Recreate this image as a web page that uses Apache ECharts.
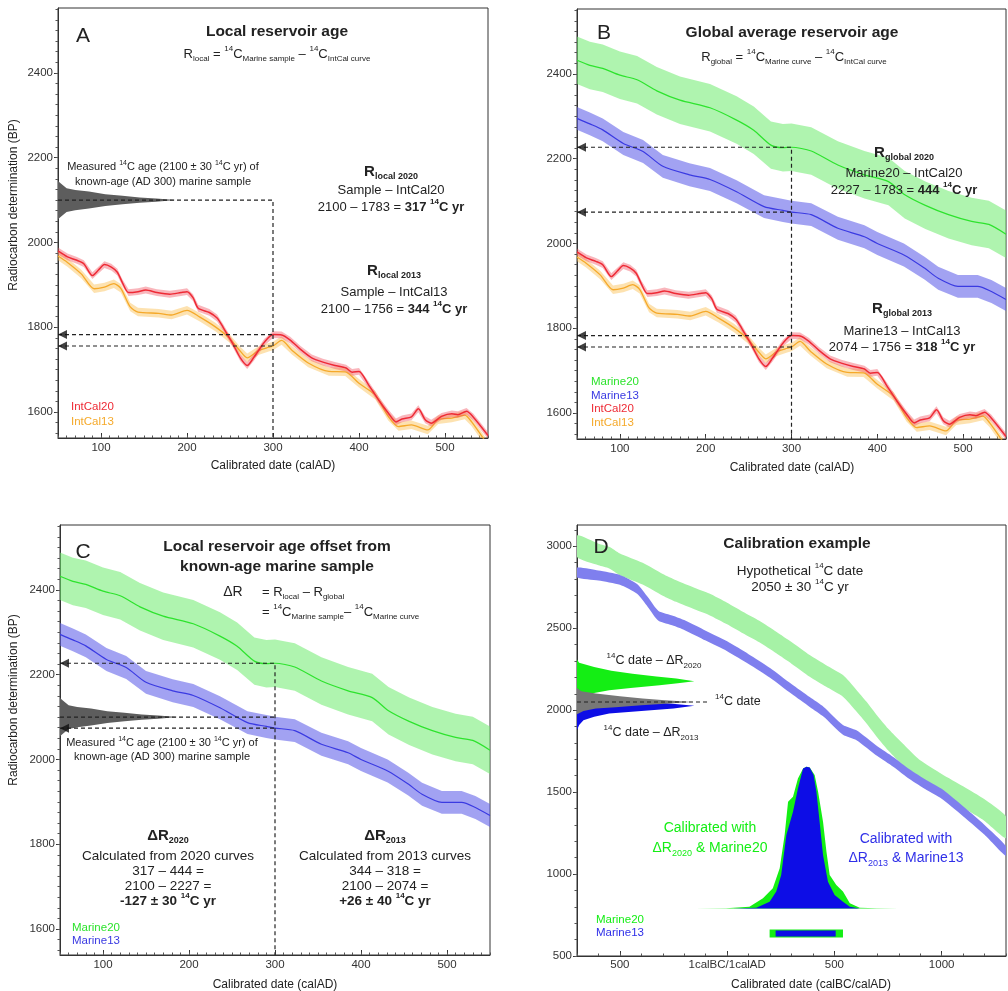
<!DOCTYPE html>
<html>
<head>
<meta charset="utf-8">
<script src="https://cdn.jsdelivr.net/npm/echarts@6/dist/echarts.min.js"></script>
<style>
html, body { margin: 0; padding: 0; background: #fff; }
#chart-panel { width: 1008px; height: 991px; }
</style>
</head>
<body>
<div id="chart-panel"></div>
<script>
// ---- curves: [calendar year, 14C age BP] ----
var intcal20 = [[50,1980],[61,1966],[72,1958],[80,1950],[90,1922],[97,1935],[104,1948],[112,1942],[119,1930],[125,1905],[132,1882],[143,1884],[152,1888],[165,1882],[180,1878],[193,1882],[200,1884],[207,1870],[213,1845],[226,1835],[235,1822],[242,1800],[253,1762],[262,1728],[270,1710],[278,1730],[290,1765],[300,1783],[310,1782],[320,1770],[332,1748],[345,1728],[358,1718],[372,1710],[385,1704],[392,1694],[400,1696],[411,1665],[423,1628],[434,1598],[443,1577],[450,1584],[461,1589],[469,1608],[477,1582],[484,1574],[496,1590],[508,1596],[515,1594],[525,1602],[533,1588],[550,1545]];
var intcal13 = [[50,1968],[61,1953],[77,1926],[92,1891],[104,1895],[115,1903],[123,1892],[134,1848],[143,1836],[167,1833],[182,1829],[200,1840],[215,1824],[233,1801],[249,1775],[261,1746],[270,1728],[283,1745],[295,1753],[300,1756],[310,1769],[322,1746],[341,1716],[365,1696],[384,1695],[400,1668],[419,1640],[434,1590],[446,1566],[461,1570],[480,1558],[492,1582],[508,1586],[523,1593],[531,1577],[550,1522]];
var marine20 = [[50,2432],[65,2420],[80,2413],[100,2397],[120,2386],[143,2360],[170,2338],[205,2320],[236,2291],[256,2267],[276,2232],[290,2226],[300,2227],[323,2218],[354,2185],[385,2162],[413,2146],[432,2115],[456,2090],[483,2068],[510,2052],[530,2045],[550,2022]];
var marine13 = [[50,2295],[65,2282],[80,2268],[104,2236],[127,2217],[150,2182],[181,2162],[205,2151],[236,2122],[268,2087],[290,2078],[300,2074],[323,2068],[354,2036],[385,2016],[400,2000],[431,1973],[455,1942],[471,1918],[494,1899],[517,1899],[533,1887],[550,1868]];
var ic20Err = 8, ic13Err = 10, m20Err = 56, m13Err = 27;

// panel D curves (calBC negative)
var marine20D = [[-700,3000],[-600,2950],[-550,2931],[-500,2890],[-394,2833],[-300,2765],[-238,2727],[-150,2680],[-83,2646],[0,2590],[73,2535],[150,2480],[229,2413],[300,2350],[385,2270],[460,2210],[540,2148],[600,2062],[650,1985],[700,1900],[750,1822],[800,1755],[850,1690],[900,1628],[1000,1545],[1100,1470],[1200,1390],[1300,1285]];
var marine13D = [[-700,2840],[-600,2822],[-500,2795],[-420,2740],[-370,2660],[-320,2575],[-250,2545],[-200,2520],[-100,2455],[0,2390],[100,2312],[200,2228],[300,2130],[385,2050],[450,1990],[540,1880],[603,1847],[700,1750],[774,1685],[850,1610],[930,1543],[1000,1490],[1085,1400],[1200,1270],[1300,1140]];
var m20DErr = 66, m13DErr = 30;

// measured / hypothetical 14C age distributions: [extent, 14C age]
var sampleDist = [[50,2145],[53,2140],[60,2128],[70,2124],[86,2120],[105,2114],[125,2110],[145,2106],[164,2104],[187,2100],[164,2096],[145,2094],[125,2090],[105,2086],[86,2080],[70,2076],[60,2072],[53,2060],[50,2055]];
var datedGray = [[-700,2135],[-680,2115],[-612,2102],[-500,2085],[-394,2071],[-290,2060],[-160,2050],[-290,2040],[-400,2030],[-520,2018],[-612,2010],[-670,1995],[-700,1975]];
var datedGreen = [[-700,2310],[-690,2290],[-620,2264],[-540,2240],[-441,2223],[-330,2205],[-237,2193],[-153,2177],[-230,2165],[-315,2152],[-450,2135],[-550,2122],[-620,2105],[-660,2091],[-690,2070],[-700,2050]];
var datedBlue = [[-700,2110],[-680,2102],[-580,2080],[-467,2061],[-268,2041],[-153,2027],[-250,2010],[-400,1995],[-550,1980],[-620,1960],[-670,1939],[-690,1910],[-700,1878]];

// calibrated distributions (drawn on the 14C axis from a baseline)
var calGreen = [[-150,790],[-5,791],[104,801],[167,852],[213,913],[245,1035],[268,1238],[284,1441],[307,1471],[330,1583],[354,1644],[370,1655],[385,1650],[408,1604],[424,1502],[447,1319],[463,1136],[478,994],[509,933],[540,893],[572,822],[618,795],[696,791],[800,790]];
var calBlue = [[26,790],[136,795],[198,831],[229,893],[252,994],[276,1238],[307,1380],[330,1522],[354,1644],[370,1655],[385,1650],[403,1604],[416,1502],[431,1319],[447,1116],[470,953],[501,872],[540,831],[572,801],[618,790]];
var rangeGreen = [198, 540], rangeBlue = [226, 506], rangeLevel = 638;

// key values
var sampleAge = 2100, sampleYear = 300, hypoAge = 2050;
var ic20At300 = 1783, ic13At300 = 1756, m20At300 = 2227, m13At300 = 2074;

// axis ticks
var adTicks = [100, 200, 300, 400, 500];
var bpTicks = [1600, 1800, 2000, 2200, 2400];
var dXTicks = [-500, 0, 500, 1000];
var dYTicks = [500, 1000, 1500, 2000, 2500, 3000];
var AD_MIN = 50, AD_MAX = 550, BP_MIN = 1539, BP_MAX = 2553;
var D_XMIN = -700, D_XMAX = 1300, D_YMIN = 500, D_YMAX = 3130;

function steps(a, b, s) { var r = []; for (var v = a; v <= b; v += s) r.push(v); return r; }

var FONT = "'Liberation Sans', Arial, sans-serif";
var COL = {
    red: '#ee2a35', redBand: 'rgba(240,80,95,0.42)',
    orange: '#f5a92a', orangeBand: 'rgba(250,190,80,0.45)',
    green: '#2de32d', greenBand: 'rgba(110,235,110,0.55)',
    blue: '#3a3ae2', blueBand: 'rgba(95,95,232,0.58)',
    dGreenBand: '#a6f2a6', dBlueBand: '#7f7fee',
    gray: '#5d5d5d', solidGreen: '#14ee14', solidBlue: '#0d0de6', ink: '#222'
};

var myChart = echarts.init(document.getElementById('chart-panel'));

function bandPoints(curve, err) {
    var up = curve.map(function (p) { return [p[0], p[1] + err]; });
    var lo = curve.map(function (p) { return [p[0], p[1] - err]; }).reverse();
    return up.concat(lo);
}

function polySeries(points, color, g, z, smooth) {
    return {
        type: 'custom', xAxisIndex: 2 * g, yAxisIndex: 2 * g, z: z, silent: true,
        data: [points[0]],
        renderItem: function (params, api) {
            var cs = params.coordSys;
            return {
                type: 'polygon',
                shape: { points: points.map(function (p) { return api.coord(p); }), smooth: smooth || 0 },
                style: { fill: color },
                clipPath: { type: 'rect', shape: { x: cs.x, y: cs.y, width: cs.width, height: cs.height } }
            };
        }
    };
}

function lineSeries(data, color, width, g, z, dashed) {
    return {
        type: 'line', data: data, xAxisIndex: 2 * g, yAxisIndex: 2 * g, z: z,
        symbol: 'none', silent: true, smooth: dashed ? false : 0.25,
        lineStyle: { color: color, width: width, type: dashed ? [4, 3] : 'solid' }
    };
}

function arrows(data, g) {
    return {
        type: 'scatter', data: data, xAxisIndex: 2 * g, yAxisIndex: 2 * g, z: 20, clip: false,
        symbol: 'triangle', symbolRotate: 90, symbolSize: [9, 9], symbolOffset: [4.5, 0],
        itemStyle: { color: '#111' }, silent: true
    };
}

var plain = function (v) { return String(v); };

function xAxes(g, min, max, major, minor, fmt, margin) {
    return [{
        gridIndex: g, type: 'value', min: min, max: max, position: 'bottom',
        axisLine: { show: true, onZero: false, lineStyle: { color: '#333' } },
        axisTick: { show: true, inside: true, length: 5, customValues: major, lineStyle: { color: '#333' } },
        axisLabel: { customValues: major, formatter: fmt || plain, color: '#333', fontSize: 11.5, fontFamily: FONT, margin: margin },
        splitLine: { show: false }
    }, {
        gridIndex: g, type: 'value', min: min, max: max, position: 'bottom',
        axisLine: { show: false, onZero: false },
        axisTick: { show: true, inside: true, length: 2.5, customValues: minor, lineStyle: { color: '#555' } },
        axisLabel: { show: false }, splitLine: { show: false }
    }];
}

function yAxes(g, min, max, major, minor) {
    return [{
        gridIndex: g, type: 'value', min: min, max: max, position: 'left',
        axisLine: { show: true, onZero: false, lineStyle: { color: '#333' } },
        axisTick: { show: true, inside: false, length: 4, customValues: major, lineStyle: { color: '#333' } },
        axisLabel: { customValues: major, formatter: plain, color: '#333', fontSize: 11.5, fontFamily: FONT, margin: 5 },
        splitLine: { show: false }
    }, {
        gridIndex: g, type: 'value', min: min, max: max, position: 'left',
        axisLine: { show: false, onZero: false },
        axisTick: { show: true, inside: false, length: 2.5, customValues: minor, lineStyle: { color: '#555' } },
        axisLabel: { show: false }, splitLine: { show: false }
    }];
}

function makeRich(size, color, bold) {
    var ss = Math.round(size * 0.62), w = bold ? 'bold' : 'normal';
    return {
        b: { fontFamily: FONT, fontSize: size, fontWeight: 'bold', fill: color },
        sup: { fontFamily: FONT, fontSize: ss, fontWeight: w, fill: color, lineHeight: ss + 1, verticalAlign: 'top' },
        sub: { fontFamily: FONT, fontSize: ss, fontWeight: w, fill: color, lineHeight: ss + 1, verticalAlign: 'bottom' },
        bsup: { fontFamily: FONT, fontSize: ss, fontWeight: 'bold', fill: color, lineHeight: ss + 1, verticalAlign: 'top' },
        bsub: { fontFamily: FONT, fontSize: ss + 1, fontWeight: 'bold', fill: color, lineHeight: ss + 1, verticalAlign: 'bottom' },
        R: { fontFamily: FONT, fontSize: size + 2, fontWeight: 'bold', fill: color }
    };
}

function txt(x, y, text, o) {
    o = o || {};
    var size = o.size || 13, color = o.color || COL.ink;
    return {
        type: 'text', x: x, y: y, rotation: o.rot || 0, silent: true, z: 100,
        style: {
            text: text, fontFamily: FONT, fontSize: size, fontWeight: o.bold ? 'bold' : 'normal', fill: color,
            align: o.align || 'center', verticalAlign: 'middle', lineHeight: Math.round(size * 1.4),
            rich: makeRich(size, color, o.bold)
        }
    };
}

var adMinor = steps(AD_MIN, AD_MAX, 10);
var bpMinor = steps(1550, 2550, 25);
var dxMinor = steps(D_XMIN, D_XMAX, 100);
var dyMinor = steps(D_YMIN, 3100, 100);
var dFmt = function (v) { return v === 0 ? '1calBC/1calAD' : String(Math.abs(v)); };

var xAxis = [].concat(
    xAxes(0, AD_MIN, AD_MAX, adTicks, adMinor, null, 4),
    xAxes(1, AD_MIN, AD_MAX, adTicks, adMinor, null, 4),
    xAxes(2, AD_MIN, AD_MAX, adTicks, adMinor, null, 4),
    xAxes(3, D_XMIN, D_XMAX, dXTicks, dxMinor, dFmt, 3)
);
var yAxis = [].concat(
    yAxes(0, BP_MIN, BP_MAX, bpTicks, bpMinor),
    yAxes(1, BP_MIN, BP_MAX, bpTicks, bpMinor),
    yAxes(2, BP_MIN, BP_MAX, bpTicks, bpMinor),
    yAxes(3, D_YMIN, D_YMAX, dYTicks, dyMinor)
);

var series = [];
// ---- A: local reservoir age ----
series.push(polySeries(bandPoints(intcal13, ic13Err), COL.orangeBand, 0, 1));
series.push(lineSeries(intcal13, COL.orange, 1.3, 0, 2));
series.push(polySeries(bandPoints(intcal20, ic20Err), COL.redBand, 0, 3));
series.push(lineSeries(intcal20, COL.red, 1.5, 0, 4));
series.push(polySeries(sampleDist, COL.gray, 0, 5));
series.push(lineSeries([[AD_MIN, sampleAge], [sampleYear, sampleAge], [sampleYear, BP_MIN]], '#222', 1.2, 0, 10, true));
series.push(lineSeries([[AD_MIN, ic20At300], [sampleYear, ic20At300]], '#222', 1.2, 0, 10, true));
series.push(lineSeries([[AD_MIN, ic13At300], [sampleYear, ic13At300]], '#222', 1.2, 0, 10, true));
series.push(arrows([[AD_MIN, ic20At300], [AD_MIN, ic13At300]], 0));

// ---- B: global average reservoir age ----
series.push(polySeries(bandPoints(marine20, m20Err), COL.greenBand, 1, 1));
series.push(lineSeries(marine20, COL.green, 1.2, 1, 2));
series.push(polySeries(bandPoints(marine13, m13Err), COL.blueBand, 1, 1));
series.push(lineSeries(marine13, COL.blue, 1.2, 1, 2));
series.push(polySeries(bandPoints(intcal13, ic13Err), COL.orangeBand, 1, 3));
series.push(lineSeries(intcal13, COL.orange, 1.3, 1, 4));
series.push(polySeries(bandPoints(intcal20, ic20Err), COL.redBand, 1, 5));
series.push(lineSeries(intcal20, COL.red, 1.5, 1, 6));
series.push(lineSeries([[AD_MIN, m20At300], [sampleYear, m20At300], [sampleYear, BP_MIN]], '#222', 1.2, 1, 10, true));
series.push(lineSeries([[AD_MIN, m13At300], [sampleYear, m13At300]], '#222', 1.2, 1, 10, true));
series.push(lineSeries([[AD_MIN, ic20At300], [sampleYear, ic20At300]], '#222', 1.2, 1, 10, true));
series.push(lineSeries([[AD_MIN, ic13At300], [sampleYear, ic13At300]], '#222', 1.2, 1, 10, true));
series.push(arrows([[AD_MIN, m20At300], [AD_MIN, m13At300], [AD_MIN, ic20At300], [AD_MIN, ic13At300]], 1));

// ---- C: delta R ----
series.push(polySeries(bandPoints(marine20, m20Err), COL.greenBand, 2, 1));
series.push(lineSeries(marine20, COL.green, 1.2, 2, 2));
series.push(polySeries(bandPoints(marine13, m13Err), COL.blueBand, 2, 1));
series.push(lineSeries(marine13, COL.blue, 1.2, 2, 2));
series.push(polySeries(sampleDist, COL.gray, 2, 5));
series.push(lineSeries([[AD_MIN, m20At300], [sampleYear, m20At300], [sampleYear, BP_MIN]], '#222', 1.2, 2, 10, true));
series.push(lineSeries([[AD_MIN, sampleAge], [sampleYear, sampleAge]], '#222', 1.2, 2, 10, true));
series.push(lineSeries([[AD_MIN, m13At300], [sampleYear, m13At300]], '#222', 1.2, 2, 10, true));
series.push(arrows([[AD_MIN, m20At300], [AD_MIN, m13At300]], 2));

// ---- D: calibration example ----
series.push(polySeries(bandPoints(marine20D, m20DErr), COL.dGreenBand, 3, 1, 0.2));
series.push(polySeries(bandPoints(marine13D, m13DErr), COL.dBlueBand, 3, 2, 0.2));
series.push(polySeries(datedGreen, COL.solidGreen, 3, 3));
series.push(polySeries(datedBlue, COL.solidBlue, 3, 4));
series.push(polySeries(datedGray, '#777', 3, 5));
series.push(lineSeries([[D_XMIN, hypoAge], [-90, hypoAge]], '#222', 1.2, 3, 10, true));
series.push(polySeries(calGreen, COL.solidGreen, 3, 6));
series.push(polySeries(calBlue, COL.solidBlue, 3, 7));
series.push({
    type: 'line', data: [[rangeGreen[0], rangeLevel], [rangeGreen[1], rangeLevel]], xAxisIndex: 6, yAxisIndex: 6, z: 8,
    symbol: 'none', silent: true, lineStyle: { color: COL.solidGreen, width: 8, cap: 'butt' }
});
series.push({
    type: 'line', data: [[rangeBlue[0], rangeLevel], [rangeBlue[1], rangeLevel]], xAxisIndex: 6, yAxisIndex: 6, z: 9,
    symbol: 'none', silent: true, lineStyle: { color: COL.solidBlue, width: 6, cap: 'butt' }
});

var graphic = [
    // A
    txt(83, 36, 'A', { size: 21 }),
    txt(277, 32, 'Local reservoir age', { size: 15.5, bold: true }),
    txt(277, 54, 'R{sub|local} = {sup|14}C{sub|Marine sample} – {sup|14}C{sub|IntCal curve}', { size: 13 }),
    txt(163, 167, 'Measured {sup|14}C age (2100 ± 30 {sup|14}C yr) of', { size: 11 }),
    txt(163, 182, 'known-age (AD 300) marine sample', { size: 11 }),
    txt(391, 172, '{R|R}{bsub|local 2020}', { size: 13 }),
    txt(391, 190, 'Sample – IntCal20', { size: 13 }),
    txt(391, 207, '2100 – 1783 = {b|317 }{bsup|14}{b|C yr}', { size: 13 }),
    txt(394, 271, '{R|R}{bsub|local 2013}', { size: 13 }),
    txt(394, 292, 'Sample – IntCal13', { size: 13 }),
    txt(394, 309, '2100 – 1756 = {b|344 }{bsup|14}{b|C yr}', { size: 13 }),
    txt(71, 407, 'IntCal20', { size: 11.5, color: COL.red, align: 'left' }),
    txt(71, 422, 'IntCal13', { size: 11.5, color: COL.orange, align: 'left' }),
    txt(273, 466, 'Calibrated date (calAD)', { size: 12 }),
    txt(14, 205, 'Radiocarbon determination (BP)', { size: 12, rot: Math.PI / 2 }),
    // B
    txt(604, 33, 'B', { size: 21 }),
    txt(792, 33, 'Global average reservoir age', { size: 15.5, bold: true }),
    txt(794, 57, 'R{sub|global} = {sup|14}C{sub|Marine curve} – {sup|14}C{sub|IntCal curve}', { size: 13 }),
    txt(904, 153, '{R|R}{bsub|global 2020}', { size: 13 }),
    txt(904, 173, 'Marine20 – IntCal20', { size: 13 }),
    txt(904, 190, '2227 – 1783 = {b|444 }{bsup|14}{b|C yr}', { size: 13 }),
    txt(902, 309, '{R|R}{bsub|global 2013}', { size: 13 }),
    txt(902, 331, 'Marine13 – IntCal13', { size: 13 }),
    txt(902, 347, '2074 – 1756 = {b|318 }{bsup|14}{b|C yr}', { size: 13 }),
    txt(591, 382, 'Marine20', { size: 11.5, color: COL.green, align: 'left' }),
    txt(591, 395.5, 'Marine13', { size: 11.5, color: COL.blue, align: 'left' }),
    txt(591, 409, 'IntCal20', { size: 11.5, color: COL.red, align: 'left' }),
    txt(591, 422.5, 'IntCal13', { size: 11.5, color: COL.orange, align: 'left' }),
    txt(792, 468, 'Calibrated date (calAD)', { size: 12 }),
    // C
    txt(83, 552, 'C', { size: 21 }),
    txt(277, 547, 'Local reservoir age offset from', { size: 15.5, bold: true }),
    txt(277, 567, 'known-age marine sample', { size: 15.5, bold: true }),
    txt(233, 592, 'ΔR', { size: 14 }),
    txt(262, 592, '= R{sub|local} – R{sub|global}', { size: 13, align: 'left' }),
    txt(262, 612, '= {sup|14}C{sub|Marine sample}– {sup|14}C{sub|Marine curve}', { size: 13, align: 'left' }),
    txt(162, 743, 'Measured {sup|14}C age (2100 ± 30 {sup|14}C yr) of', { size: 11 }),
    txt(162, 757, 'known-age (AD 300) marine sample', { size: 11 }),
    txt(168, 836, '{R|ΔR}{bsub|2020}', { size: 13 }),
    txt(168, 856, 'Calculated from 2020 curves', { size: 13.5 }),
    txt(168, 871, '317 – 444 =', { size: 13.5 }),
    txt(168, 886, '2100 – 2227 =', { size: 13.5 }),
    txt(168, 901, '{b|-127 ± 30 }{bsup|14}{b|C yr}', { size: 13.5 }),
    txt(385, 836, '{R|ΔR}{bsub|2013}', { size: 13 }),
    txt(385, 856, 'Calculated from 2013 curves', { size: 13.5 }),
    txt(385, 871, '344 – 318 =', { size: 13.5 }),
    txt(385, 886, '2100 – 2074 =', { size: 13.5 }),
    txt(385, 901, '{b|+26 ± 40 }{bsup|14}{b|C yr}', { size: 13.5 }),
    txt(72, 928, 'Marine20', { size: 11.5, color: COL.green, align: 'left' }),
    txt(72, 941, 'Marine13', { size: 11.5, color: COL.blue, align: 'left' }),
    txt(275, 985, 'Calibrated date (calAD)', { size: 12 }),
    txt(14, 700, 'Radiocarbon determination (BP)', { size: 12, rot: Math.PI / 2 }),
    // D
    txt(601, 547, 'D', { size: 21 }),
    txt(797, 544, 'Calibration example', { size: 15.5, bold: true }),
    txt(800, 571, 'Hypothetical {sup|14}C date', { size: 13.5 }),
    txt(800, 587, '2050 ± 30 {sup|14}C yr', { size: 13.5 }),
    txt(654, 661, '{sup|14}C date – ΔR{sub|2020}', { size: 12.5 }),
    txt(715, 702, '{sup|14}C date', { size: 12.5, align: 'left' }),
    txt(651, 733, '{sup|14}C date – ΔR{sub|2013}', { size: 12.5 }),
    txt(710, 828, 'Calibrated with', { size: 14, color: COL.solidGreen }),
    txt(710, 848, 'ΔR{sub|2020} & Marine20', { size: 14, color: COL.solidGreen }),
    txt(906, 839, 'Calibrated with', { size: 14, color: '#2f2fe8' }),
    txt(906, 858, 'ΔR{sub|2013} & Marine13', { size: 14, color: '#2f2fe8' }),
    txt(596, 920, 'Marine20', { size: 11.5, color: COL.solidGreen, align: 'left' }),
    txt(596, 933, 'Marine13', { size: 11.5, color: '#2f2fe8', align: 'left' }),
    txt(811, 985, 'Calibrated date (calBC/calAD)', { size: 12 })
];

var gridBase = { show: true, borderColor: '#333', borderWidth: 1, backgroundColor: 'transparent', containLabel: false, outerBoundsMode: 'none' };

myChart.setOption({
    animation: false,
    backgroundColor: '#fff',
    textStyle: { fontFamily: FONT },
    grid: [
        Object.assign({ left: 58, top: 8, width: 430, height: 430 }, gridBase),
        Object.assign({ left: 577, top: 9, width: 429, height: 430 }, gridBase),
        Object.assign({ left: 60, top: 525, width: 430, height: 430 }, gridBase),
        Object.assign({ left: 577, top: 525, width: 429, height: 431 }, gridBase)
    ],
    xAxis: xAxis,
    yAxis: yAxis,
    series: series,
    graphic: graphic
});
</script>
</body>
</html>
